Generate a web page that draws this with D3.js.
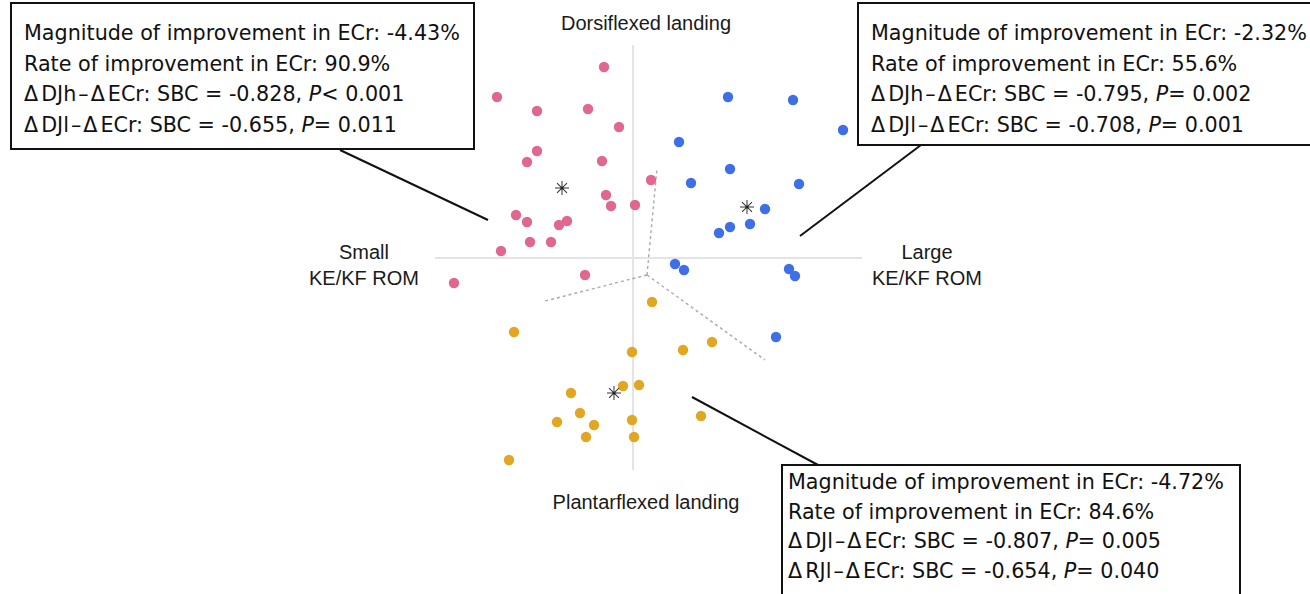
<!DOCTYPE html>
<html>
<head>
<meta charset="utf-8">
<script src="https://cdn.jsdelivr.net/npm/d3@7"></script>
<style>
  body { margin: 0; background: #fff; }
  svg { display: block; }
</style>
</head>
<body>
<svg id="chart" width="1310" height="594"></svg>
<script>
// cluster scores (dimension 1 = KE/KF ROM, dimension 2 = landing posture)
const pinkX = [-0.29, -1.36, -0.96, -0.45, -0.14, -0.96, -1.06, -0.31, 0.18, -0.27, -0.22, 0.02, -1.17, -1.06, -0.74, -0.66, -1.03, -0.82, -1.32, -0.48, -1.79];
const pinkY = [1.91, 1.61, 1.47, 1.49, 1.31, 1.07, 0.96, 0.97, 0.78, 0.63, 0.52, 0.53, 0.43, 0.36, 0.33, 0.37, 0.16, 0.16, 0.07, -0.17, -0.25];
const blueX = [0.95, 1.60, 2.10, 0.46, 0.97, 0.58, 1.66, 1.32, 1.17, 0.97, 0.86, 0.42, 0.51, 1.56, 1.62, 1.43];
const blueY = [1.61, 1.58, 1.28, 1.16, 0.89, 0.75, 0.74, 0.49, 0.34, 0.31, 0.25, -0.06, -0.12, -0.11, -0.18, -0.79];
const yellowX = [0.19, -1.19, -0.01, 0.50, 0.79, -0.62, -0.10, 0.06, -0.53, -0.76, -0.39, -0.01, 0.68, -0.47, 0.01, -1.24];
const yellowY = [-0.44, -0.74, -0.94, -0.92, -0.84, -1.35, -1.28, -1.27, -1.55, -1.64, -1.67, -1.62, -1.58, -1.79, -1.79, -2.02];

// cluster centroids
const centroidX = [-0.71, 1.14, -0.19];
const centroidY = [0.70, 0.51, -1.35];

// cluster boundaries (from a common vertex)
const boundaryOrigin = [0.14, -0.17];
const boundaryEndX = [0.24, -0.88, 1.32];
const boundaryEndY = [0.90, -0.43, -1.02];

const clusterColors = ["#e0688f", "#3f6fe6", "#e2a722"];

const box1Lines = [
  [{t: "Magnitude of improvement in ECr: -4.43%"}],
  [{t: "Rate of improvement in ECr: 90.9%"}],
  [{t: "\u0394DJh\u2013\u0394ECr: SBC = -0.828, "}, {t: "P", i: true}, {t: "< 0.001"}],
  [{t: "\u0394DJl\u2013\u0394ECr: SBC = -0.655, "}, {t: "P", i: true}, {t: "= 0.011"}]
];
const box2Lines = [
  [{t: "Magnitude of improvement in ECr: -2.32%"}],
  [{t: "Rate of improvement in ECr: 55.6%"}],
  [{t: "\u0394DJh\u2013\u0394ECr: SBC = -0.795, "}, {t: "P", i: true}, {t: "= 0.002"}],
  [{t: "\u0394DJl\u2013\u0394ECr: SBC = -0.708, "}, {t: "P", i: true}, {t: "= 0.001"}]
];
const box3Lines = [
  [{t: "Magnitude of improvement in ECr: -4.72%"}],
  [{t: "Rate of improvement in ECr: 84.6%"}],
  [{t: "\u0394DJl\u2013\u0394ECr: SBC = -0.807, "}, {t: "P", i: true}, {t: "= 0.005"}],
  [{t: "\u0394RJl\u2013\u0394ECr: SBC = -0.654, "}, {t: "P", i: true}, {t: "= 0.040"}]
];

const svg = d3.select("#chart");
const x = d3.scaleLinear().domain([-2, 2.3]).range([433, 863]);
const y = d3.scaleLinear().domain([-2.12, 2.13]).range([470, 45]);

// axes through origin
svg.append("line")
  .attr("x1", x(-1.98)).attr("x2", x(2.29))
  .attr("y1", y(0)).attr("y2", y(0))
  .attr("stroke", "#e4e4e4").attr("stroke-width", 2);
svg.append("line")
  .attr("x1", x(0)).attr("x2", x(0))
  .attr("y1", y(2.13)).attr("y2", y(-2.12))
  .attr("stroke", "#e4e4e4").attr("stroke-width", 2);

// boundaries
svg.append("g").selectAll("line")
  .data(boundaryEndX)
  .join("line")
  .attr("x1", x(boundaryOrigin[0])).attr("y1", y(boundaryOrigin[1]))
  .attr("x2", d => x(d)).attr("y2", (d, i) => y(boundaryEndY[i]))
  .attr("stroke", "#aaa").attr("stroke-width", 1.4)
  .attr("stroke-dasharray", "3,3");

// points
const groups = [[pinkX, pinkY], [blueX, blueY], [yellowX, yellowY]];
groups.forEach((g, k) => {
  svg.append("g").selectAll("circle")
    .data(g[0])
    .join("circle")
    .attr("cx", d => x(d))
    .attr("cy", (d, i) => y(g[1][i]))
    .attr("r", 5.2)
    .attr("fill", clusterColors[k]);
});

// centroids as asterisks
const star = svg.append("g").selectAll("g")
  .data(centroidX)
  .join("g")
  .attr("transform", (d, i) => "translate(" + x(d) + "," + y(centroidY[i]) + ")");
[0, 45, 90, 135].forEach(a => {
  star.append("line")
    .attr("x1", -7).attr("x2", 7).attr("y1", 0).attr("y2", 0)
    .attr("transform", "rotate(" + a + ")")
    .attr("stroke", "#333").attr("stroke-width", 1);
});
star.append("circle").attr("r", 1.6).attr("fill", "#222");

// axis labels
const labelFont = "'Liberation Sans', Arial, sans-serif";
const boxFont = "'DejaVu Sans', sans-serif";
function label(px, py, lines) {
  const t = svg.append("text")
    .attr("x", px).attr("y", py)
    .attr("text-anchor", "middle")
    .attr("font-family", labelFont)
    .attr("font-size", 20)
    .attr("fill", "#1a1a1a");
  lines.forEach((s, i) => {
    t.append("tspan").attr("x", px).attr("dy", i === 0 ? 0 : 26).text(s);
  });
}
label(646, 30, ["Dorsiflexed landing"]);
label(646, 509, ["Plantarflexed landing"]);
label(364, 259, ["Small", "KE/KF ROM"]);
label(927, 259, ["Large", "KE/KF ROM"]);

// connectors
const connectors = [
  [340, 150, 488, 220],
  [921, 145, 800, 236],
  [692, 397, 818, 465]
];
svg.append("g").selectAll("line")
  .data(connectors)
  .join("line")
  .attr("x1", d => d[0]).attr("y1", d => d[1])
  .attr("x2", d => d[2]).attr("y2", d => d[3])
  .attr("stroke", "#111").attr("stroke-width", 2);

// annotation boxes; delta and dash get a little extra room like the
// full-width glyphs in the original
function box(bx, by, bw, bh, tx, ty, step, lines) {
  svg.append("rect")
    .attr("x", bx).attr("y", by).attr("width", bw).attr("height", bh)
    .attr("fill", "#fff").attr("stroke", "#111").attr("stroke-width", 2);
  lines.forEach((parts, i) => {
    const t = svg.append("text")
      .attr("x", tx).attr("y", ty + i * step)
      .attr("font-family", boxFont)
      .attr("font-size", 20.7)
      .attr("fill", "#111");
    let pad = 0;
    parts.forEach(p => {
      p.t.split(/(\u0394|\u2013)/).filter(s => s.length).forEach(s => {
        const isDash = s === "\u2013";
        t.append("tspan")
          .attr("font-style", p.i ? "italic" : null)
          .attr("dx", pad + (isDash ? 2 : 0) || null)
          .text(s);
        pad = s === "\u0394" ? 3 : (isDash ? 2 : 0);
      });
    });
  });
}
box(11, 3, 463, 146, 24, 40, 30.7, box1Lines);
box(858, 3, 470, 142, 871, 40, 30.5, box2Lines);
box(782, 465, 458, 140, 788, 489, 29.5, box3Lines);
</script>
</body>
</html>
